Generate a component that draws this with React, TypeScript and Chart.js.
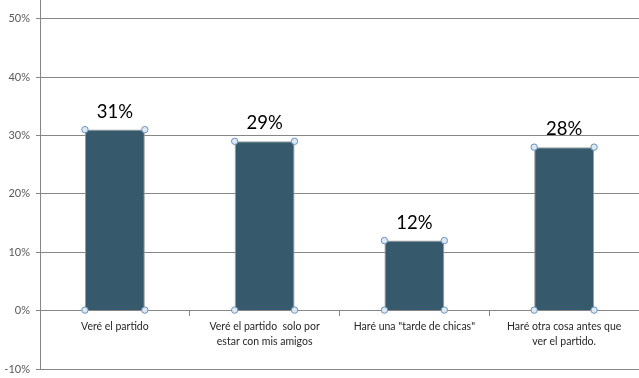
import React, { useEffect, useRef } from "react";
import { Chart, registerables } from "chart.js";

Chart.register(...registerables);

const categories: string[][] = [
  ["Veré el partido"],
  ["Veré el partido  solo por", "estar con mis amigos"],
  ['Haré una "tarde de chicas"'],
  ["Haré otra cosa antes que", "ver el partido."],
];
const values: number[] = [0.31, 0.29, 0.12, 0.28];
const yTicks: number[] = [-0.1, 0, 0.1, 0.2, 0.3, 0.4, 0.5];
const yTickLabels: string[] = ["-10%", "0%", "10%", "20%", "30%", "40%", "50%"];
const dataLabels: string[] = ["31%", "29%", "12%", "28%"];

const FONT = "Lato, 'Open Sans', sans-serif";

const overlayPlugin = {
  id: "overlay",
  afterDatasetsDraw(chart: any) {
    const ctx = chart.ctx;
    const meta = chart.getDatasetMeta(0);
    ctx.save();
    meta.data.forEach((bar: any, i: number) => {
      const p = bar.getProps(["x", "y", "base", "width"], true);
      const l = p.x - p.width / 2;
      const r = p.x + p.width / 2;
      ctx.fillStyle = "#000000";
      ctx.font = `18.5px ${FONT}`;
      ctx.textAlign = "center";
      ctx.textBaseline = "alphabetic";
      ctx.fillText(dataLabels[i], p.x, p.y - 12);
      const pts = [
        [l, p.y],
        [r, p.y],
        [l, p.base],
        [r, p.base],
      ];
      pts.forEach(([cx, cy]) => {
        ctx.beginPath();
        ctx.arc(cx, cy, 3.2, 0, Math.PI * 2);
        ctx.fillStyle = "#dce8f4";
        ctx.fill();
        ctx.lineWidth = 1;
        ctx.strokeStyle = "#6a93bf";
        ctx.stroke();
      });
    });
    ctx.restore();
  },
};

export default function App() {
  const ref = useRef<HTMLCanvasElement | null>(null);
  useEffect(() => {
    document.body.style.margin = "0";
    const chart = new Chart(ref.current as HTMLCanvasElement, {
      type: "bar",
      data: {
        labels: categories,
        datasets: [
          {
            data: values,
            backgroundColor: "#365a6b",
            borderColor: "#9a9a9a",
            borderWidth: 1,
            categoryPercentage: 1,
            barPercentage: 0.4,
          },
        ],
      },
      plugins: [overlayPlugin],
      options: {
        animation: false,
        responsive: false,
        maintainAspectRatio: false,
        layout: { padding: { top: 0, right: 0, bottom: 9, left: 0 } },
        plugins: { legend: { display: false }, tooltip: { enabled: false } },
        scales: {
          x: {
            position: { y: 0 } as any,
            offset: true,
            grid: {
              offset: true,
              drawOnChartArea: false,
              drawTicks: true,
              tickLength: 5,
              color: "#868686",
            },
            border: { display: true, color: "#868686", width: 1 },
            ticks: {
              color: "#262626",
              font: { family: FONT, size: 10.5, lineHeight: 1.4 },
              padding: 4,
              maxRotation: 0,
              autoSkip: false,
            },
          },
          y: {
            min: -0.1,
            max: 0.532,
            afterBuildTicks: (scale: any) => {
              scale.ticks = yTicks.map((v) => ({ value: v }));
            },
            afterFit: (scale: any) => {
              scale.width = 40;
              scale.paddingTop = 0;
              scale.paddingBottom = 0;
            },
            grid: {
              color: "#868686",
              tickLength: 4,
              drawTicks: true,
            },
            border: { display: true, color: "#868686", width: 1 },
            ticks: {
              color: "#595959",
              font: { family: FONT, size: 11 },
              padding: 6,
              callback: (v: any) => {
                const idx = yTicks.findIndex((t) => Math.abs(t - Number(v)) < 1e-9);
                return idx >= 0 ? yTickLabels[idx] : "";
              },
            },
          },
        },
      },
    });
    return () => chart.destroy();
  }, []);
  return (
    <div style={{ width: 639, height: 378, background: "#ffffff" }}>
      <canvas ref={ref} width={639} height={378} style={{ display: "block" }} />
    </div>
  );
}
